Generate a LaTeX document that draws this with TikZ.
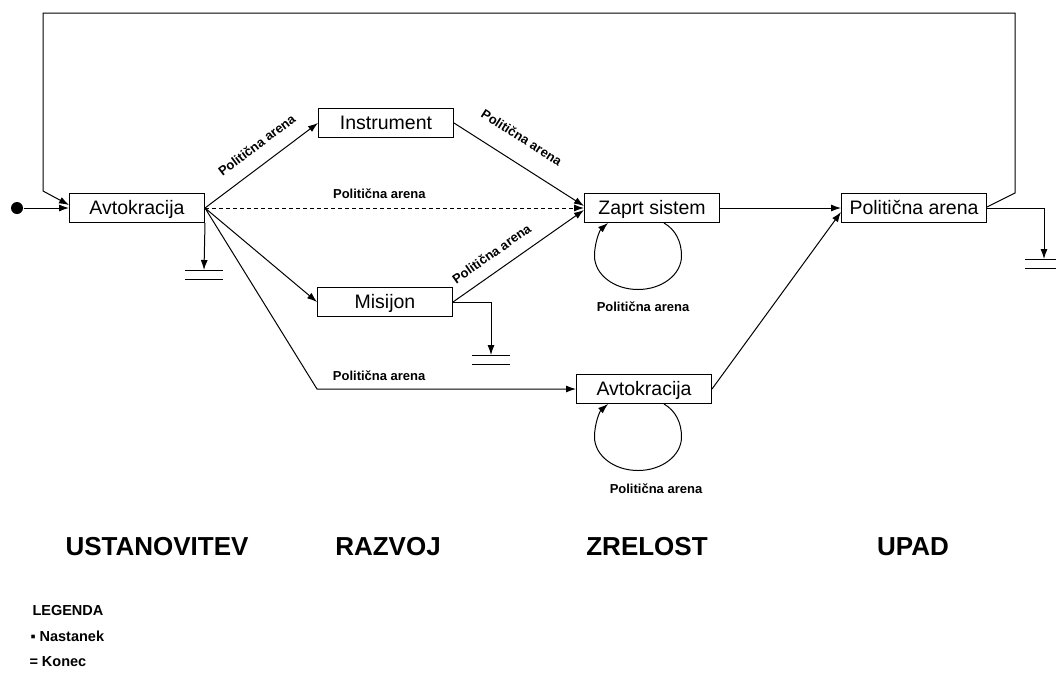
\documentclass[tikz,border=0pt]{standalone}
\usepackage{fontspec}
\setmainfont{Liberation Sans}
\usetikzlibrary{arrows.meta}
\begin{document}
\begin{tikzpicture}[x=1pt,y=-1pt,line width=1pt,
  box/.style={draw, fill=white, minimum width=135pt, minimum height=29pt,
    inner xsep=8pt, inner ysep=0pt, text height=13.8pt, text depth=0pt,
    font=\fontsize{19.5}{19.5}\selectfont},
  lbl/.style={font=\bfseries\fontsize{13}{13}\selectfont, inner sep=1pt},
  arr/.style={-{Latex[length=10pt,width=7pt]}},
  phase/.style={font=\bfseries\fontsize{26}{26}\selectfont, anchor=base, inner sep=0pt},
  leg/.style={font=\bfseries\fontsize{14.5}{14.5}\selectfont, anchor=base west, inner sep=0pt},
  endbar/.style={line width=1pt}]
\useasboundingbox (0,0) rectangle (1056,673);
\fill[white] (0,0) rectangle (1056,673);

% states
\node[box] (avt1)  at (137,208) {Avtokracija};
\node[box] (instr) at (386,123) {Instrument};
\node[box] (mis)   at (385,302) {Misijon};
\node[box] (zs)    at (652,208) {Zaprt sistem};
\node[box] (avt2)  at (644,389) {Avtokracija};
\node[box] (pa)    at (914,208) {Politična arena};

% start
\node[circle, fill, inner sep=0pt, minimum size=12pt] (start) at (17,208) {};
\draw[arr] (start) -- (avt1.west);

% feedback from decline back to the beginning
\coordinate (fbR)  at (1015,193);
\coordinate (fbTR) at (1015,13);
\coordinate (fbTL) at (43,13);
\coordinate (fbL)  at (43,191);
\draw[arr] ([yshift=1pt]pa.east) -- (fbR) -- (fbTR) -- (fbTL) -- (fbL) -- ([yshift=3pt]avt1.west);

% transitions
\draw[arr] (avt1.east) -- node[lbl, sloped, pos=0.56, above=13pt] {Politična arena} (instr.west);
\draw[arr] (instr.east) -- node[lbl, sloped, pos=0.42, above=18pt] {Politična arena} ([yshift=2pt]zs.west);
\draw[arr, dash pattern=on 4pt off 3pt] (avt1.east) -- node[lbl, pos=0.46, above=8pt] {Politična arena} (zs.west);
\draw[arr] (avt1.east) -- (mis.west);
\draw[arr] (mis.east) -- node[lbl, sloped, pos=0.37, above=11pt] {Politična arena} ([yshift=-2pt]zs.west);
\coordinate (bend) at (mis.west |- avt2.west);
\draw[arr] (avt1.east) -- (bend) -- node[lbl, pos=0.24, above=7pt] {Politična arena} (avt2.west);
\draw[arr] (zs.east) -- (pa.west);
\draw[arr] (avt2.east) -- ([yshift=-4pt]pa.west);

% self loops
\draw[arr] ([xshift=12pt]zs.south) .. controls (676,230) and (681.5,242) .. (681.5,256)
  .. controls (681.5,274.5) and (662,289.5) .. (638,289.5)
  .. controls (614,289.5) and (594.5,274.5) .. (594.5,256)
  .. controls (594.5,242) and (600,230) .. ([xshift=-44pt]zs.south);
\node[lbl] (zsl) at (643,307) {Politična arena};

\draw[arr] ([xshift=20pt]avt2.south) .. controls (676,411) and (681.5,423) .. (681.5,437)
  .. controls (681.5,455.5) and (662,470.5) .. (638,470.5)
  .. controls (614,470.5) and (594.5,455.5) .. (594.5,437)
  .. controls (594.5,423) and (600,411) .. ([xshift=-36pt]avt2.south);
\node[lbl] (avt2l) at (656,489) {Politična arena};

% ends
\coordinate (end1) at (204,270);
\coordinate (end2) at (491,355);
\coordinate (end3) at (1044,259);
\draw[arr] (avt1.south east) -- (end1);
\draw[arr] (mis.east) -- (end2 |- mis.east) -- (end2);
\draw[arr] (pa.east) -- (end3 |- pa.east) -- (end3);
\foreach \e in {end1,end2,end3}{
  \draw[endbar] ([xshift=-19pt]\e) -- ([xshift=19pt]\e)
    ([xshift=-19pt,yshift=-9pt]\e) -- ([xshift=19pt,yshift=-9pt]\e);
}

% phases
\node[phase] (ph1) at (157,555) {USTANOVITEV};
\node[phase] (ph2) at (388,555) {RAZVOJ};
\node[phase] (ph3) at (647,555) {ZRELOST};
\node[phase] (ph4) at (913,555) {UPAD};

% legend
\node[leg] (legt) at (32,615) {LEGENDA};
\node[leg] (leg1) at (30,641) {▪ Nastanek};
\node[leg] (leg2) at (29,666) {= Konec};
\end{tikzpicture}
\end{document}
